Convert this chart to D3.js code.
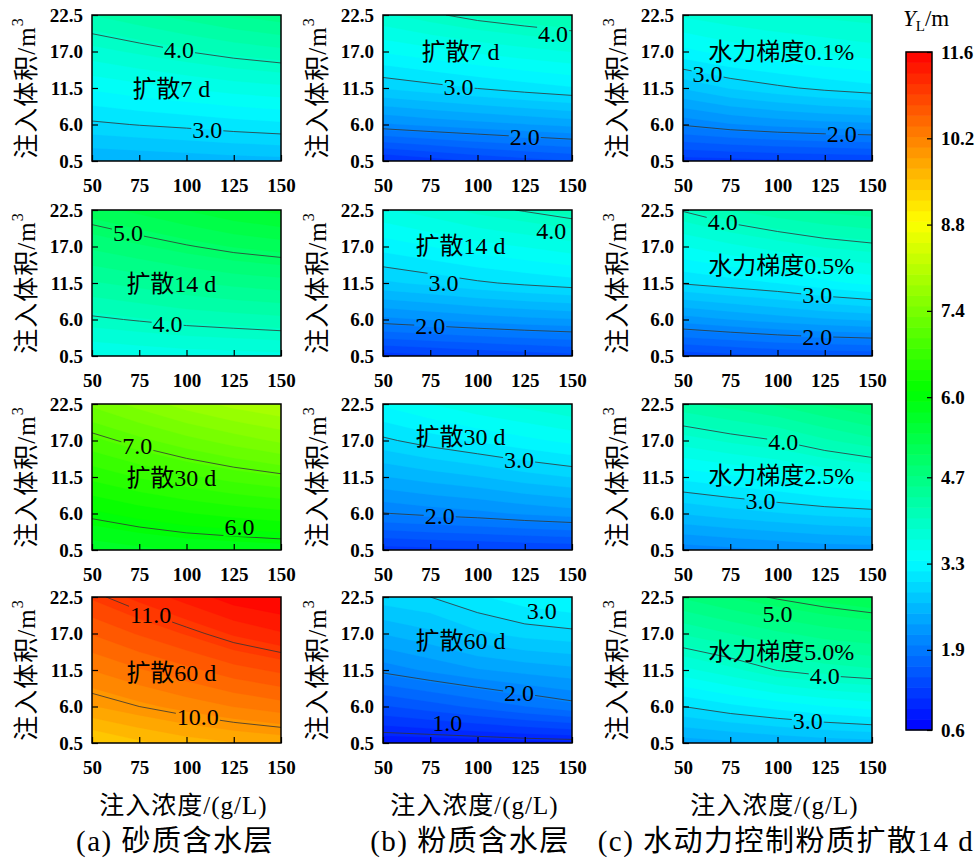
<!DOCTYPE html>
<html>
<head>
<meta charset="utf-8">
<script src="https://cdn.jsdelivr.net/npm/d3@7"></script>
<style>
  body { margin: 0; background: #fff; }
  svg { display: block; }
</style>
</head>
<body>
<div id="chart"></div>
<script>
// axes values
var conc = [50, 75, 100, 125, 150]
var volume = [0.5, 6.0, 11.5, 17.0, 22.5]
var cbTicks = [0.6, 1.9, 3.3, 4.7, 6.0, 7.4, 8.8, 10.2, 11.6]

// Y_L grids: one row per volume (0.5 -> 22.5), one column per concentration (50 -> 150)
var sand7 = [
  [2.50, 2.52, 2.55, 2.58, 2.60],
  [2.96, 3.01, 3.05, 3.10, 3.14],
  [3.38, 3.46, 3.53, 3.60, 3.65],
  [3.80, 3.90, 4.00, 4.09, 4.16],
  [4.21, 4.33, 4.45, 4.56, 4.65]]
var sand14 = [
  [3.52, 3.56, 3.60, 3.62, 3.64],
  [3.96, 4.02, 4.08, 4.12, 4.16],
  [4.36, 4.44, 4.53, 4.60, 4.65],
  [4.76, 4.87, 4.98, 5.08, 5.15],
  [5.16, 5.29, 5.42, 5.55, 5.64]]
var sand30 = [
  [5.64, 5.71, 5.77, 5.80, 5.83],
  [6.06, 6.17, 6.26, 6.33, 6.39],
  [6.49, 6.63, 6.75, 6.86, 6.95],
  [6.91, 7.08, 7.24, 7.38, 7.51],
  [7.34, 7.54, 7.73, 7.88, 7.98]]
var sand60 = [
  [9.35, 9.50, 9.62, 9.70, 9.76],
  [9.87, 10.00, 10.12, 10.23, 10.32],
  [10.23, 10.38, 10.52, 10.67, 10.78],
  [10.58, 10.76, 10.93, 11.11, 11.24],
  [10.94, 11.14, 11.33, 11.52, 11.60]]
var silt7 = [
  [1.10, 1.20, 1.30, 1.38, 1.45],
  [2.12, 2.19, 2.25, 2.31, 2.37],
  [2.85, 2.93, 3.01, 3.09, 3.16],
  [3.37, 3.46, 3.55, 3.63, 3.70],
  [3.83, 3.96, 4.08, 4.16, 4.23]]
var silt14 = [
  [1.20, 1.25, 1.30, 1.35, 1.40],
  [2.10, 2.16, 2.22, 2.27, 2.31],
  [2.80, 2.88, 2.97, 3.04, 3.10],
  [3.25, 3.35, 3.45, 3.53, 3.62],
  [3.66, 3.78, 3.92, 4.02, 4.12]]
var silt30 = [
  [1.20, 1.23, 1.25, 1.28, 1.30],
  [1.99, 2.05, 2.10, 2.17, 2.23],
  [2.48, 2.57, 2.65, 2.76, 2.84],
  [2.96, 3.09, 3.20, 3.30, 3.40],
  [3.38, 3.52, 3.65, 3.75, 3.85]]
var silt60 = [
  [0.82, 0.83, 0.85, 0.88, 0.90],
  [1.44, 1.55, 1.67, 1.80, 1.92],
  [2.05, 2.18, 2.30, 2.38, 2.44],
  [2.50, 2.62, 2.80, 2.90, 2.95],
  [2.93, 3.00, 3.15, 3.28, 3.35]]
var grad01 = [
  [1.20, 1.22, 1.25, 1.27, 1.30],
  [2.02, 2.13, 2.20, 2.25, 2.28],
  [2.68, 2.85, 2.96, 3.05, 3.12],
  [3.30, 3.42, 3.50, 3.56, 3.62],
  [3.72, 3.80, 3.86, 3.90, 3.94]]
var grad05 = [
  [1.35, 1.40, 1.45, 1.48, 1.50],
  [2.23, 2.32, 2.40, 2.47, 2.52],
  [3.02, 3.10, 3.18, 3.30, 3.40],
  [3.52, 3.65, 3.77, 3.88, 3.95],
  [4.02, 4.20, 4.33, 4.42, 4.48]]
var grad25 = [
  [2.05, 2.10, 2.15, 2.20, 2.22],
  [2.67, 2.75, 2.82, 2.88, 2.92],
  [3.23, 3.32, 3.41, 3.52, 3.62],
  [3.78, 3.90, 4.00, 4.18, 4.33],
  [4.33, 4.45, 4.58, 4.75, 4.90]]
var grad50 = [
  [2.40, 2.45, 2.50, 2.55, 2.58],
  [3.00, 3.13, 3.24, 3.34, 3.42],
  [3.64, 3.81, 4.01, 4.12, 4.18],
  [4.23, 4.38, 4.52, 4.63, 4.70],
  [4.75, 4.90, 5.03, 5.14, 5.23]]

// panel layout, in-plot titles and contour label spots ([level, at concentration, pixel nudge])
var panels = [
  {grid: sand7,  col: 0, row: 0, title: "扩散7 d",  tx: 92, ty: 11.3, labels: [[4, 96], [3, 111]]},
  {grid: sand14, col: 0, row: 1, title: "扩散14 d", tx: 92, ty: 11.3, labels: [[5, 69], [4, 90]]},
  {grid: sand30, col: 0, row: 2, title: "扩散30 d", tx: 92, ty: 11.3, labels: [[7, 74], [6, 128, -10]]},
  {grid: sand60, col: 0, row: 3, title: "扩散60 d", tx: 92, ty: 11.0, labels: [[11, 81], [10, 106]]},
  {grid: silt7,  col: 1, row: 0, title: "扩散7 d",  tx: 91, ty: 17.0, labels: [[4, 140, 5], [3, 90], [2, 125]]},
  {grid: silt14, col: 1, row: 1, title: "扩散14 d", tx: 91, ty: 17.1, labels: [[4, 139, 15], [3, 82, 7], [2, 75]]},
  {grid: silt30, col: 1, row: 2, title: "扩散30 d", tx: 91, ty: 17.5, labels: [[3, 122], [2, 80]]},
  {grid: silt60, col: 1, row: 3, title: "扩散60 d", tx: 91, ty: 15.8, labels: [[3, 134, -15], [2, 122], [1, 84, -12]]},
  {grid: grad01, col: 2, row: 0, title: "水力梯度0.1%", tx: 102, ty: 17.0, labels: [[3, 63], [2, 134]]},
  {grid: grad05, col: 2, row: 1, title: "水力梯度0.5%", tx: 102, ty: 14.0, labels: [[4, 71], [3, 121], [2, 121]]},
  {grid: grad25, col: 2, row: 2, title: "水力梯度2.5%", tx: 102, ty: 11.7, labels: [[4, 103], [3, 91]]},
  {grid: grad50, col: 2, row: 3, title: "水力梯度5.0%", tx: 102, ty: 14.2, labels: [[5, 100, 15], [4, 125], [3, 116]]}
]
var captions = ["(a) 砂质含水层", "(b) 粉质含水层", "(c) 水动力控制粉质扩散14 d"]

var serif = "'Liberation Serif', 'Times New Roman', Times, 'Noto Sans CJK SC', serif"

var svgWidth = 980
var svgHeight = 863
var colLeft = [92, 383, 683]
var rowTop = [15, 210, 404, 597]
var plotW = 189
var plotH = 146

var svg = d3.select("#chart")
  .append("svg")
  .attr("width", svgWidth)
  .attr("height", svgHeight)
  .style("font-family", serif)
var defs = svg.append("defs")

var color = d3.scaleLinear()
  .domain([0.6, 3.35, 6.1, 8.85, 11.6])
  .range(["#0000ff", "#00ffff", "#00ff00", "#ffff00", "#ff0000"])
var nBands = 64
var step = (11.6 - 0.6) / nBands
var thresholds = d3.range(nBands).map(i => 0.6 + i * step)

var x = d3.scaleLinear().domain([50, 150]).range([0, plotW])
var y = d3.scaleLinear().domain([0.5, 22.5]).range([plotH, 0])

// contour grid coords -> data (samples sit at cell centres)
var gx = d3.scaleLinear().domain([0.5, conc.length - 0.5]).range([conc[0], conc[conc.length - 1]])
var gy = d3.scaleLinear().domain([0.5, volume.length - 0.5]).range([volume[0], volume[volume.length - 1]])
var path = d3.geoPath(d3.geoTransform({
  point: function(px, py) { this.stream.point(x(gx(px)), y(gy(py))) }
}))
var contours = d3.contours().size([conc.length, volume.length])

// where a level crosses the column at concentration xv
function levelY(grid, level, xv) {
  var f = (xv - conc[0]) / (conc[1] - conc[0])
  var i0 = Math.max(0, Math.min(Math.floor(f), conc.length - 2))
  var t = f - i0
  var col = grid.map(r => r[i0] * (1 - t) + r[i0 + 1] * t)
  for (var j = 0; j < col.length - 1; j++) {
    if ((col[j] - level) * (col[j + 1] - level) <= 0 && col[j] !== col[j + 1]) {
      return volume[j] + (level - col[j]) / (col[j + 1] - col[j]) * (volume[j + 1] - volume[j])
    }
  }
  return volume[volume.length - 1]
}

function styleTicks(a) {
  a.select(".domain").remove()
  a.attr("font-family", null).attr("font-size", null)
  a.selectAll(".tick text")
    .style("font-family", serif)
    .style("font-weight", "bold")
    .style("font-size", "19px")
    .attr("fill", "#000")
  a.selectAll(".tick line").attr("stroke", "#000").attr("stroke-width", 1.2)
}

panels.forEach(function(p, k) {
  var left = colLeft[p.col], top = rowTop[p.row]
  var values = []
  p.grid.forEach(row => row.forEach(v => values.push(v)))

  var g = svg.append("g").attr("transform", `translate(${left}, ${top})`)

  defs.append("clipPath").attr("id", "clip" + k)
    .append("rect").attr("width", plotW).attr("height", plotH)

  var inner = g.append("g").attr("clip-path", `url(#clip${k})`)

  // filled bands
  inner.append("g")
    .selectAll("path")
    .data(contours.thresholds(thresholds)(values))
    .join("path")
    .attr("d", path)
    .attr("fill", d => color(d.value + step / 2))
    .attr("stroke", d => color(d.value + step / 2))
    .attr("stroke-width", 0.3)

  // contour lines at whole values
  var ext = d3.extent(values)
  var levels = d3.range(Math.ceil(ext[0]), Math.floor(ext[1]) + 1)
  var mask = defs.append("mask").attr("id", "mask" + k)
    .attr("maskUnits", "userSpaceOnUse")
    .attr("x", -5).attr("y", -5).attr("width", plotW + 10).attr("height", plotH + 10)
  mask.append("rect").attr("x", -5).attr("y", -5)
    .attr("width", plotW + 10).attr("height", plotH + 10).attr("fill", "#fff")

  inner.append("g")
    .attr("mask", `url(#mask${k})`)
    .selectAll("path")
    .data(contours.thresholds(levels)(values))
    .join("path")
    .attr("d", path)
    .attr("fill", "none")
    .attr("stroke", "#333")
    .attr("stroke-width", 0.8)

  // contour labels
  p.labels.forEach(function(l) {
    var t = g.append("text")
      .attr("x", x(l[1]))
      .attr("y", y(levelY(p.grid, l[0], l[1])) + (l[2] || 0))
      .attr("text-anchor", "middle")
      .attr("dominant-baseline", "central")
      .style("font-size", "24px")
      .text(d3.format(".1f")(l[0]))
    var b = t.node().getBBox()
    mask.append("rect")
      .attr("x", b.x - 1).attr("y", b.y + 3)
      .attr("width", b.width + 2).attr("height", b.height - 6)
      .attr("fill", "#000")
  })

  // panel title
  g.append("text")
    .attr("x", x(p.tx))
    .attr("y", y(p.ty))
    .attr("text-anchor", "middle")
    .attr("dominant-baseline", "central")
    .style("font-size", "24px")
    .text(p.title)

  // frame
  g.append("rect")
    .attr("width", plotW).attr("height", plotH)
    .attr("fill", "none").attr("stroke", "#000").attr("stroke-width", 1.5)

  // axes
  var bottomAxis = d3.axisBottom(x).tickValues(conc).tickSizeInner(-6).tickSizeOuter(0).tickPadding(18)
  var leftAxis = d3.axisLeft(y).tickValues(volume).tickSizeInner(-6).tickSizeOuter(0).tickPadding(9)
    .tickFormat(d3.format(".1f"))
  g.append("g").attr("transform", `translate(0, ${plotH})`).call(bottomAxis).call(styleTicks)
  g.append("g").call(leftAxis).call(styleTicks)

  // y title
  var yt = svg.append("text")
    .attr("transform", `translate(${left - 66}, ${top + plotH / 2}) rotate(-90)`)
    .attr("text-anchor", "middle")
    .attr("dominant-baseline", "central")
    .style("font-size", "25px")
    .style("letter-spacing", "1px")
  yt.append("tspan").text("注入体积/m")
  yt.append("tspan").attr("dy", "-0.55em").style("font-size", "16px").text("3")
})

// x titles and captions
colLeft.forEach(function(left, c) {
  svg.append("text")
    .attr("x", left + plotW / 2 - 3)
    .attr("y", 805)
    .attr("text-anchor", "middle")
    .attr("dominant-baseline", "central")
    .style("font-size", "25px")
    .style("letter-spacing", "1px")
    .text("注入浓度/(g/L)")
  svg.append("text")
    .attr("x", [175, 470, 786][c])
    .attr("y", 841)
    .attr("text-anchor", "middle")
    .attr("dominant-baseline", "central")
    .style("font-size", "29px")
    .style("letter-spacing", "1.5px")
    .text(captions[c])
})

// colour bar
var cbX = 906, cbW = 26, cbTop = 52, cbBottom = 730
var cbScale = d3.scaleLinear().domain([0.6, 11.6]).range([cbBottom, cbTop])
var cb = svg.append("g")
cb.selectAll("rect")
  .data(thresholds)
  .join("rect")
  .attr("x", cbX)
  .attr("width", cbW)
  .attr("y", d => cbScale(d + step) - 0.3)
  .attr("height", d => cbScale(d) - cbScale(d + step) + 0.6)
  .attr("fill", d => color(d + step / 2))
cb.append("rect")
  .attr("x", cbX).attr("y", cbTop).attr("width", cbW).attr("height", cbBottom - cbTop)
  .attr("fill", "none").attr("stroke", "#000").attr("stroke-width", 1.5)
cb.append("g")
  .attr("transform", `translate(${cbX + cbW}, 0)`)
  .call(d3.axisRight(cbScale).tickValues(cbTicks).tickSizeInner(-5).tickSizeOuter(0).tickPadding(9)
    .tickFormat(d3.format(".1f")))
  .call(styleTicks)

var cbt = svg.append("text").attr("x", 903).attr("y", 26).style("font-size", "23px")
cbt.append("tspan").style("font-style", "italic").text("Y")
cbt.append("tspan").attr("dy", 5).style("font-size", "15px").text("L")
cbt.append("tspan").attr("dy", -5).text("/m")
</script>
</body>
</html>
